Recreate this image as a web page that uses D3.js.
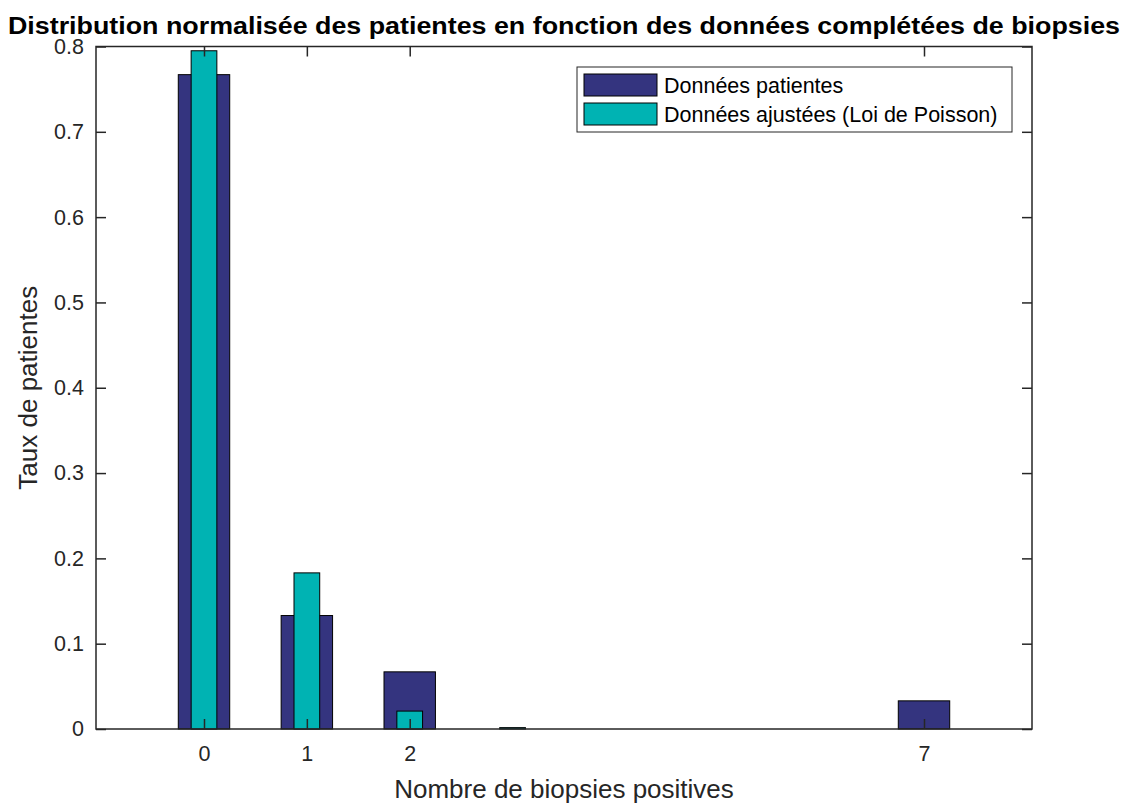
<!DOCTYPE html>
<html>
<head>
<meta charset="utf-8">
<script src="https://cdn.jsdelivr.net/npm/d3@7"></script>
<style>
  body { margin: 0; background: #fff; }
  text { font-family: "Liberation Sans", Arial, sans-serif; fill: #262626; }
</style>
</head>
<body>
<script>
// nombre de biopsies positives
var xCats = [0, 1, 2, 3, 7];
var patientValues = [0.767, 0.133, 0.067, 0, 0.033];
var poissonValues = [0.795, 0.183, 0.021, 0.0016, 0];
var xTicks = [0, 1, 2, 7];
var yTicks = [0, 0.1, 0.2, 0.3, 0.4, 0.5, 0.6, 0.7, 0.8];
var seriesNames = ["Données patientes", "Données ajustées (Loi de Poisson)"];
var colors = ["#34347f", "#00b3b3"];

var width = 1128, height = 803;
var mLeft = 96, mRight = 1032, mTop = 46.5, mBottom = 729;

var svg = d3.select("body").append("svg")
    .attr("width", width)
    .attr("height", height);

var x = d3.scaleLinear().domain([-1.05, 8.05]).range([mLeft, mRight]);
var y = d3.scaleLinear().domain([0, 0.8]).range([mBottom, mTop]);

// bars
var bw1 = x(0.5) - x(0), bw2 = x(0.25) - x(0);

svg.append("g").selectAll("rect")
  .data(xCats.map(function(c, i) { return {c: c, v: patientValues[i]}; }).filter(function(d) { return d.v > 0; }))
  .enter().append("rect")
    .attr("x", function(d) { return x(d.c) - bw1 / 2; })
    .attr("y", function(d) { return y(d.v); })
    .attr("width", bw1)
    .attr("height", function(d) { return y(0) - y(d.v); })
    .style("fill", colors[0])
    .style("stroke", "#000")
    .style("stroke-width", 1);

svg.append("g").selectAll("rect")
  .data(xCats.map(function(c, i) { return {c: c, v: poissonValues[i]}; }).filter(function(d) { return d.v > 0; }))
  .enter().append("rect")
    .attr("x", function(d) { return x(d.c) - bw2 / 2; })
    .attr("y", function(d) { return y(d.v); })
    .attr("width", bw2)
    .attr("height", function(d) { return y(0) - y(d.v); })
    .style("fill", colors[1])
    .style("stroke", "#000")
    .style("stroke-width", 1);

// axes (ticks pointing inward, box on all sides)
function styleAxis(g) {
  g.select(".domain").remove();
  g.selectAll("line").style("stroke", "#262626").style("stroke-width", 1.5);
  g.selectAll("text").style("font-size", "21.5px").style("fill", "#262626")
    .style("font-family", "'Liberation Sans', Arial, sans-serif");
}

svg.append("g")
    .attr("transform", "translate(0," + mBottom + ")")
    .call(d3.axisBottom(x).tickValues(xTicks).tickFormat(d3.format("d")).tickSizeInner(-10).tickSizeOuter(0).tickPadding(17))
    .call(styleAxis);
svg.append("g")
    .attr("transform", "translate(0," + mTop + ")")
    .call(d3.axisTop(x).tickValues(xTicks).tickFormat("").tickSizeInner(-10).tickSizeOuter(0))
    .call(styleAxis);
svg.append("g")
    .attr("transform", "translate(" + mLeft + ",0)")
    .call(d3.axisLeft(y).tickValues(yTicks).tickFormat(function(d) { return d === 0 ? "0" : d3.format(".1f")(d); }).tickSizeInner(-10).tickSizeOuter(0).tickPadding(12))
    .call(styleAxis);
svg.append("g")
    .attr("transform", "translate(" + mRight + ",0)")
    .call(d3.axisRight(y).tickValues(yTicks).tickFormat("").tickSizeInner(-10).tickSizeOuter(0))
    .call(styleAxis);

svg.append("rect")
    .attr("x", mLeft).attr("y", mTop)
    .attr("width", mRight - mLeft).attr("height", mBottom - mTop)
    .style("fill", "none").style("stroke", "#262626").style("stroke-width", 1.5);

// labels
svg.append("text")
    .attr("x", (mLeft + mRight) / 2).attr("y", 798)
    .attr("text-anchor", "middle")
    .style("font-size", "26px")
    .text("Nombre de biopsies positives");

svg.append("text")
    .attr("transform", "translate(37," + (mTop + mBottom) / 2 + ") rotate(-90)")
    .attr("text-anchor", "middle")
    .style("font-size", "26px")
    .text("Taux de patientes");

svg.append("text")
    .attr("x", 564).attr("y", 34)
    .attr("text-anchor", "middle")
    .attr("textLength", 1112)
    .attr("lengthAdjust", "spacingAndGlyphs")
    .style("font-size", "23px")
    .style("font-weight", "bold")
    .style("fill", "#000")
    .text("Distribution normalisée des patientes en fonction des données complétées de biopsies");

// legend
var lg = svg.append("g");
lg.append("rect")
    .attr("x", 577).attr("y", 67).attr("width", 435).attr("height", 65)
    .style("fill", "#fff").style("stroke", "#262626").style("stroke-width", 1);
seriesNames.forEach(function(name, i) {
  lg.append("rect")
      .attr("x", 584).attr("y", 74 + i * 29).attr("width", 73).attr("height", 22)
      .style("fill", colors[i]).style("stroke", "#000").style("stroke-width", 1);
  lg.append("text")
      .attr("x", 664).attr("y", 93 + i * 29)
      .style("font-size", "21.5px")
      .style("fill", "#000")
      .text(name);
});
</script>
</body>
</html>
